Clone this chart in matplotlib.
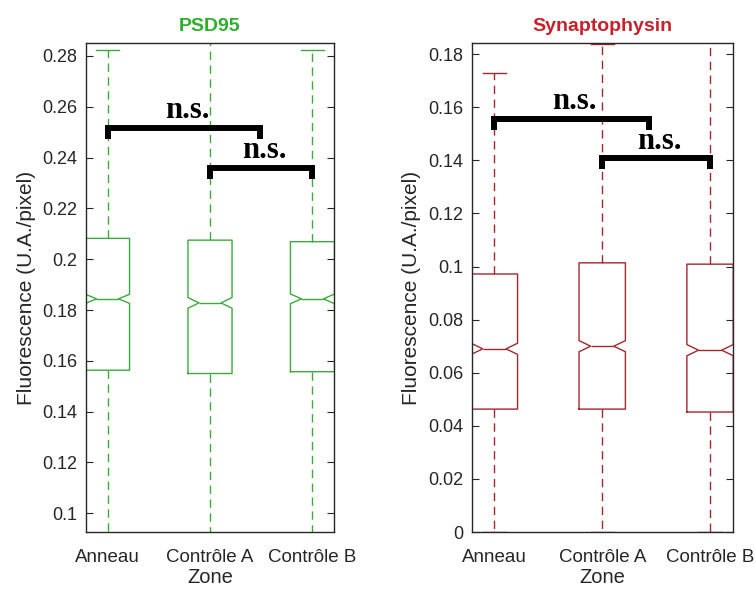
# Global libraries
import matplotlib
matplotlib.use('Agg')
import matplotlib.pyplot as plt
from matplotlib.ticker import FuncFormatter

#===================================================================================================
# data

zones = ['Anneau', 'Contrôle A', 'Contrôle B']

# PSD95
psd_q1     = [0.1563, 0.1550, 0.1557]
psd_med    = [0.1844, 0.1828, 0.1844]
psd_q3     = [0.2082, 0.2075, 0.2069]
psd_notch  = [0.0018, 0.0021, 0.0019]
psd_whislo = [0.070, 0.070, 0.070]
psd_whishi = [0.2823, 0.300, 0.2823]

# Synaptophysin
syn_q1     = [0.0463, 0.0463, 0.0452]
syn_med    = [0.0690, 0.0700, 0.0685]
syn_q3     = [0.0972, 0.1014, 0.1009]
syn_notch  = [0.0021, 0.0021, 0.0021]
syn_whislo = [0.0, 0.0, 0.0]
syn_whishi = [0.1728, 0.1838, 0.200]

# significance brackets: (left group, right end, height)
psd_brackets = [(1, 2.49, 0.2517), (2, 3, 0.2360)]
syn_brackets = [(1, 2.43, 0.1555), (2, 3, 0.1408)]

#===================================================================================================

plt.rcParams['font.family'] = ['Liberation Sans', 'DejaVu Sans']
GREY = '#262626'


def make_stats(q1, med, q3, notch, lo, hi):
	'''Builds the list of dicts that ax.bxp wants.'''
	stats = []
	for i in range(len(q1)):
		stats.append(dict(q1=q1[i], med=med[i], q3=q3[i],
		                  cilo=med[i] - notch[i], cihi=med[i] + notch[i],
		                  whislo=lo[i], whishi=hi[i], fliers=[]))
	return stats


def draw_panel(ax, stats, brackets, color, title_color, title, ylims, yticks):
	'''One MATLAB-like notched boxplot panel.'''
	pos = [1, 2, 3]
	ax.bxp(stats, positions=pos, widths=0.43, shownotches=True, showfliers=False,
	       boxprops=dict(color=color, linewidth=1.0),
	       medianprops=dict(color=color, linewidth=1.0),
	       whiskerprops=dict(color=color, linewidth=1.0, linestyle=(0, (6, 4))),
	       capprops=dict(color=color, linewidth=1.0))

	ax.set_xlim(0.79, 3.21)
	ax.set_ylim(ylims)
	ax.set_yticks(yticks)
	ax.yaxis.set_major_formatter(FuncFormatter(lambda v, p: f'{v:g}'))
	ax.set_xticks(pos)
	ax.set_xticklabels(zones)

	ax.tick_params(axis='y', direction='in', length=5, width=0.8, right=True,
	               labelsize=13, colors=GREY, pad=6)
	ax.tick_params(axis='x', direction='in', length=0, labelsize=13.5, colors=GREY, pad=12)
	for s in ax.spines.values():
		s.set_color(GREY)
		s.set_linewidth(1.0)

	ax.set_xlabel('Zone', fontsize=14.5, color=GREY, labelpad=2)
	ax.set_ylabel('Fluorescence (U.A./pixel)', fontsize=15, color=GREY, labelpad=5)
	ax.set_title(title, fontsize=14, fontweight='bold', color=title_color, pad=9)

	# n.s. brackets
	for x0, x1, h in brackets:
		leg = (ylims[1] - ylims[0]) * 0.022
		ax.plot([x0, x0, x1, x1], [h - leg, h, h, h - leg], color='black', linewidth=4.3,
		        solid_joinstyle='miter', solid_capstyle='butt', clip_on=False, zorder=5)
		ax.annotate('n.s.', xy=((x0 + x1) / 2 + 0.03, h), xytext=(0, 7),
		            textcoords='offset points', ha='center', va='baseline',
		            fontsize=22, fontweight='bold', family='Liberation Serif', color='black')

#===================================================================================================

fig = plt.figure(figsize=(7.55, 5.91), dpi=100)
ax1 = fig.add_axes([0.1139, 0.0998, 0.3285, 0.8274])
ax2 = fig.add_axes([0.6248, 0.0998, 0.3457, 0.8274])

draw_panel(ax1, make_stats(psd_q1, psd_med, psd_q3, psd_notch, psd_whislo, psd_whishi),
           psd_brackets, '#3caa3c', '#2cb02c', 'PSD95',
           (0.0926, 0.2851), [0.1 + 0.02 * i for i in range(10)])

draw_panel(ax2, make_stats(syn_q1, syn_med, syn_q3, syn_notch, syn_whislo, syn_whishi),
           syn_brackets, '#a2282e', '#c8202a', 'Synaptophysin',
           (0.0, 0.1842), [0.02 * i for i in range(10)])

fig.savefig('out.png', dpi=100)
